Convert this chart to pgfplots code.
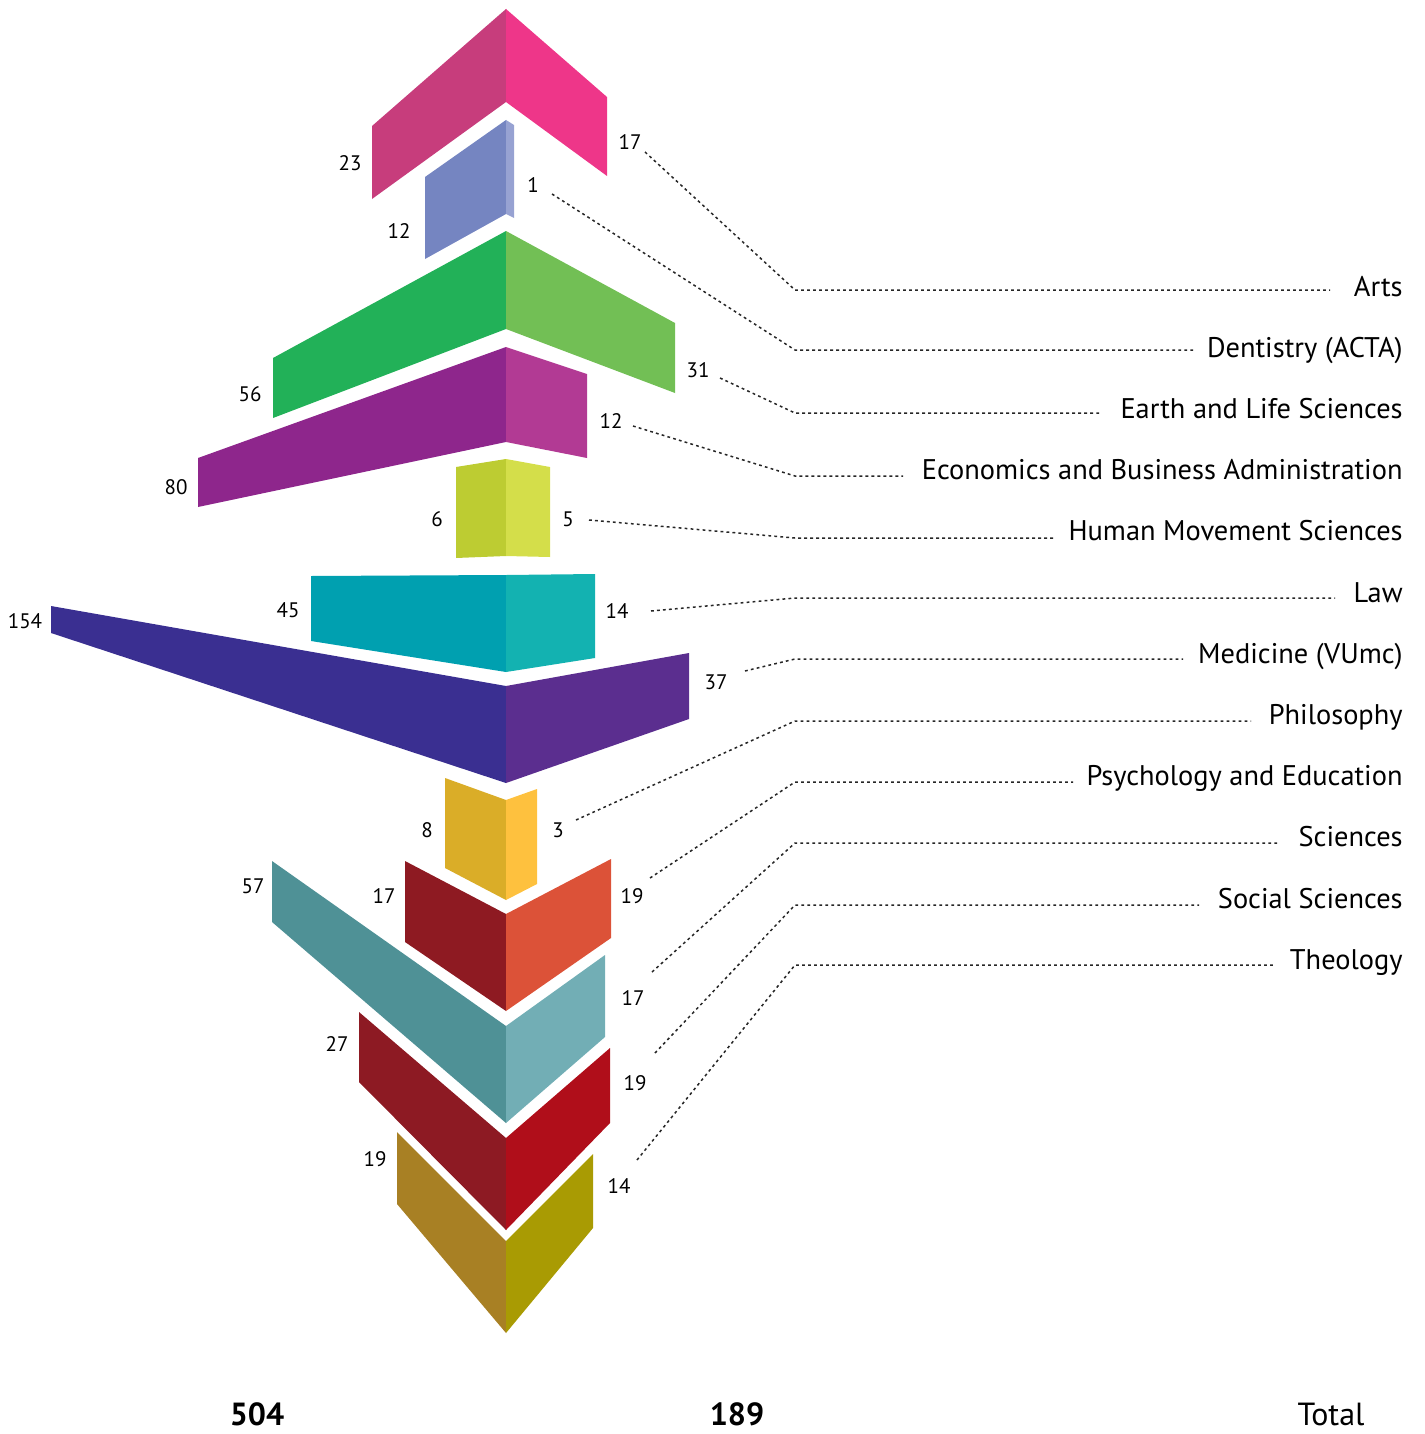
\documentclass[border=0pt]{standalone}
\usepackage{pgfplots}
\pgfplotsset{compat=1.18}
\usepackage{fontspec}
\setmainfont{PT Sans}
\definecolor{txt}{HTML}{333333}
\definecolor{artsL}{HTML}{C73D7C}\definecolor{artsR}{HTML}{EE3689}
\definecolor{dentL}{HTML}{7585C1}\definecolor{dentR}{HTML}{97A2D2}
\definecolor{earthL}{HTML}{22B158}\definecolor{earthR}{HTML}{72BF55}
\definecolor{econL}{HTML}{8E268C}\definecolor{econR}{HTML}{B23A94}
\definecolor{humL}{HTML}{BDCC32}\definecolor{humR}{HTML}{D4DE4A}
\definecolor{lawL}{HTML}{00A0B0}\definecolor{lawR}{HTML}{13B2B1}
\definecolor{medL}{HTML}{3A2F91}\definecolor{medR}{HTML}{5B2E8F}
\definecolor{phiL}{HTML}{DAAD28}\definecolor{phiR}{HTML}{FEC13E}
\definecolor{psyL}{HTML}{8E1A22}\definecolor{psyR}{HTML}{DC5238}
\definecolor{sciL}{HTML}{4F9196}\definecolor{sciR}{HTML}{72AEB5}
\definecolor{socL}{HTML}{8D1A23}\definecolor{socR}{HTML}{B00E1A}
\definecolor{theL}{HTML}{A88024}\definecolor{theR}{HTML}{A99B03}
\begin{document}
\begin{tikzpicture}
\begin{axis}[at={(0,0)}, anchor=south west, width=712pt, height=717pt, scale only axis,
  xmin=0, xmax=1424, ymin=0, ymax=1434, y dir=reverse, hide axis, clip=false, no markers,
  every node/.style={text=txt}]
% Arts
\addplot[fill=artsL, draw=none] coordinates {(506,9) (372,126) (372,199) (506,102)};
\addplot[fill=artsR, draw=none] coordinates {(506,9) (607,97) (607,176) (506,102)};
% Dentistry
\addplot[fill=dentL, draw=none] coordinates {(506,120) (425,177) (425,259) (506,214)};
\addplot[fill=dentR, draw=none] coordinates {(506,120) (514,125) (514,218) (506,214)};
% Earth
\addplot[fill=earthL, draw=none] coordinates {(506,231) (273,358) (273,418) (506,329)};
\addplot[fill=earthR, draw=none] coordinates {(506,231) (675,323) (675,393) (506,329)};
% Economics
\addplot[fill=econL, draw=none] coordinates {(506,347) (198,458) (198,507) (506,442)};
\addplot[fill=econR, draw=none] coordinates {(506,347) (587,374) (587,458) (506,442)};
% Human Movement
\addplot[fill=humL, draw=none] coordinates {(506,459) (456,467) (456,558) (506,556)};
\addplot[fill=humR, draw=none] coordinates {(506,459) (550,467) (550,557) (506,556)};
% Law
\addplot[fill=lawL, draw=none] coordinates {(506,575) (311,576) (311,641) (506,672)};
\addplot[fill=lawR, draw=none] coordinates {(506,575) (595,574) (595,658) (506,672)};
% Medicine
\addplot[fill=medL, draw=none] coordinates {(506,686) (51,606) (51,633) (506,783)};
\addplot[fill=medR, draw=none] coordinates {(506,686) (689,653) (689,719) (506,783)};
% Philosophy
\addplot[fill=phiL, draw=none] coordinates {(506,800) (445,778) (445,868) (506,900)};
\addplot[fill=phiR, draw=none] coordinates {(506,800) (537,789) (537,884) (506,900)};
% Psychology
\addplot[fill=psyL, draw=none] coordinates {(506,914) (405,861) (405,942) (506,1011)};
\addplot[fill=psyR, draw=none] coordinates {(506,914) (611,859) (611,938) (506,1011)};
% Sciences
\addplot[fill=sciL, draw=none] coordinates {(506,1026) (272,861) (272,922) (506,1123)};
\addplot[fill=sciR, draw=none] coordinates {(506,1026) (605,955) (605,1037) (506,1123)};
% Social Sciences
\addplot[fill=socL, draw=none] coordinates {(506,1138) (359,1012) (359,1082) (506,1230)};
\addplot[fill=socR, draw=none] coordinates {(506,1138) (610,1048) (610,1123) (506,1230)};
% Theology
\addplot[fill=theL, draw=none] coordinates {(506,1241) (397,1132) (397,1204) (506,1333)};
\addplot[fill=theR, draw=none] coordinates {(506,1241) (593,1154) (593,1228) (506,1333)};

% leader lines
\tikzset{lead/.style={draw=black!85, line width=0.75pt, dash pattern=on 1.4pt off 1.6pt}}
\addplot[lead] coordinates {(645,152) (795,290) (1330,290)};
\addplot[lead] coordinates {(552,194) (795,350) (1193,350)};
\addplot[lead] coordinates {(720,378) (795,413) (1102,413)};
\addplot[lead] coordinates {(633,426) (795,476) (903,476)};
\addplot[lead] coordinates {(589,520) (795,538) (1054,538)};
\addplot[lead] coordinates {(651,611) (795,598) (1335,598)};
\addplot[lead] coordinates {(745,671) (795,659) (1183,659)};
\addplot[lead] coordinates {(576,820) (795,721) (1251,721)};
\addplot[lead] coordinates {(650,878) (795,782) (1073,782)};
\addplot[lead] coordinates {(652,972) (795,843) (1277,843)};
\addplot[lead] coordinates {(655,1053) (795,905) (1199,905)};
\addplot[lead] coordinates {(637,1160) (795,965) (1274,965)};

% value labels
\tikzset{val/.style={font=\fontsize{10.5}{12}\selectfont, anchor=center, inner sep=0pt}}
\node[val] at (axis cs:350,163) {23};
\node[val] at (axis cs:630,142) {17};
\node[val] at (axis cs:533,185) {1};
\node[val] at (axis cs:399,231) {12};
\node[val] at (axis cs:250,394) {56};
\node[val] at (axis cs:698,370) {31};
\node[val] at (axis cs:611,421) {12};
\node[val] at (axis cs:176,487) {80};
\node[val] at (axis cs:437,519) {6};
\node[val] at (axis cs:568,519) {5};
\node[val] at (axis cs:288,610) {45};
\node[val] at (axis cs:617,611) {14};
\node[val] at (axis cs:25,621) {154};
\node[val] at (axis cs:716,682) {37};
\node[val] at (axis cs:427,830) {8};
\node[val] at (axis cs:558,830) {3};
\node[val] at (axis cs:253,886) {57};
\node[val] at (axis cs:384,896) {17};
\node[val] at (axis cs:632,896) {19};
\node[val] at (axis cs:633,998) {17};
\node[val] at (axis cs:337,1044) {27};
\node[val] at (axis cs:635,1083) {19};
\node[val] at (axis cs:375,1159) {19};
\node[val] at (axis cs:619,1186) {14};

% category labels
\tikzset{cat/.style={font=\fontsize{14.2}{17}\selectfont, anchor=base east, inner sep=0pt}}
\node[cat] at (axis cs:1403,296) {Arts};
\node[cat] at (axis cs:1403,357.2) {Dentistry (ACTA)};
\node[cat] at (axis cs:1403,418.4) {Earth and Life Sciences};
\node[cat] at (axis cs:1403,479.6) {Economics and Business Administration};
\node[cat] at (axis cs:1403,540.8) {Human Movement Sciences};
\node[cat] at (axis cs:1403,602) {Law};
\node[cat] at (axis cs:1403,663.2) {Medicine (VUmc)};
\node[cat] at (axis cs:1403,724.4) {Philosophy};
\node[cat] at (axis cs:1403,785.6) {Psychology and Education};
\node[cat] at (axis cs:1403,846.8) {Sciences};
\node[cat] at (axis cs:1403,908) {Social Sciences};
\node[cat] at (axis cs:1403,969.2) {Theology};

% totals
\tikzset{tot/.style={font=\fontsize{16}{19}\selectfont, anchor=base, inner sep=0pt}}
\node[tot, font=\fontsize{16}{19}\selectfont\bfseries] at (axis cs:257,1425) {504};
\node[tot, font=\fontsize{16}{19}\selectfont\bfseries] at (axis cs:737,1425) {189};
\node[tot] at (axis cs:1331,1425) {Total};
\end{axis}
\pgfresetboundingbox
\path (current axis.south west) rectangle (current axis.north east);
\end{tikzpicture}
\end{document}
